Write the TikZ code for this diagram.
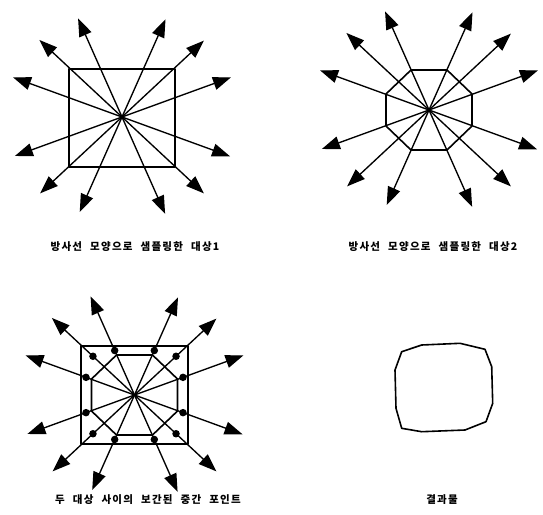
\documentclass[tikz,border=0pt]{standalone}
\usepackage{fontspec}
\newfontfamily\kr{Noto Sans CJK KR}[LetterSpace=12, WordSpace=2.2]
\usetikzlibrary{arrows.meta, calc}

\begin{document}
\begin{tikzpicture}[
  x=1pt, y=1pt,
  >={Triangle[length=18pt, width=13pt]},
  ray/.style={->, line width=1.35pt},
  outline/.style={line width=1.6pt, line join=round},
  dot/.style={circle, fill=black, inner sep=0pt, minimum size=7.5pt},
  caption/.style={font=\kr\bfseries\fontsize{10.5}{12}\selectfont},
]
  \useasboundingbox (0,0) rectangle (543,-514);

  \coordinate (c1) at (122,-117);
  \coordinate (c2) at (429,-110);
  \coordinate (c3) at (134.5,-395);

  \draw[outline] (69,-69) rectangle (175,-167);
  \draw[outline] (411,-70) -- (447,-70) -- (472,-94) -- (472,-126) -- (447,-150) -- (411,-150) -- (386,-126) -- (386,-94) -- cycle;
  \draw[outline] (81,-346) rectangle (188,-444);
  \draw[outline] (116.5,-355) -- (152.5,-355) -- (177.5,-379) -- (177.5,-411) -- (152.5,-435) -- (116.5,-435) -- (91.5,-411) -- (91.5,-379) -- cycle;

  \foreach \c in {c1,c2,c3}
    \foreach \a/\r in {20/116, 43/112, 66/107, 114/108, 137/113, 160/116, 200/114, 223/112, 246/104, 294/106, 317/112, 340/115}
      \draw[ray] (\c) -- ++(\a:\r);

  \foreach \a/\d in {20/51.6, 43/56.8, 66/48.7, 114/48.7, 137/56.8, 160/51.6, 200/51.6, 223/56.8, 246/48.7, 294/48.7, 317/56.8, 340/51.6}
    \node[dot] (p\a) at ($(c3)+(\a:\d)$) {};

  \draw[outline] (401.7,-351.7) -- (421.7,-345) -- (460,-343.3) -- (485,-349.3) -- (491.7,-366.7) -- (492.7,-403.3) -- (486,-421.7) -- (465,-430) -- (421.7,-431.7) -- (401.7,-428.3) -- (396,-408.3) -- (395,-370) -- cycle;

  \node[caption] (cap1) at (135,-247) {방사선 모양으로 샘플링한 대상1};
  \node[caption] (cap2) at (433,-247) {방사선 모양으로 샘플링한 대상2};
  \node[caption] (cap3) at (148,-500) {두 대상 사이의 보간된 중간 포인트};
  \node[caption] (cap4) at (442,-500) {결과물};
\end{tikzpicture}
\end{document}
